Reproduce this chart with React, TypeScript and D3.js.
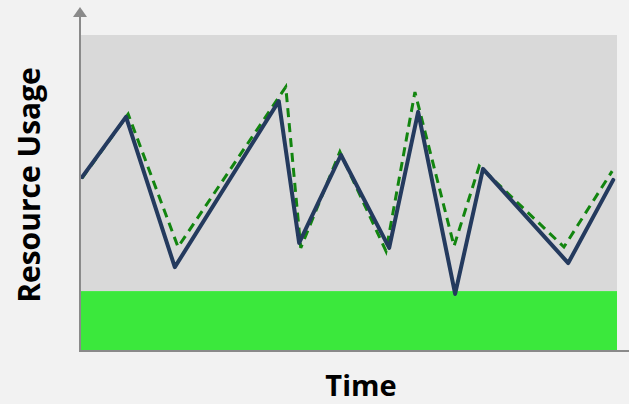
import React from "react";
import * as d3 from "d3";

// time (0..100) and resource usage (0..100)
const timeActual = [0.2, 8.4, 17.5, 36.9, 40.7, 48.5, 57.5, 62.9, 69.8, 75.0, 90.9, 99.3];
const usageActual = [54.9, 74.0, 26.3, 79.0, 34.0, 61.9, 32.4, 75.6, 17.8, 57.5, 27.6, 54.0];

const timeForecast = [0.2, 8.8, 18.1, 38.2, 41.0, 48.3, 56.9, 62.3, 69.6, 74.3, 90.1, 99.1];
const usageForecast = [54.6, 74.9, 32.7, 83.5, 32.4, 62.9, 31.4, 81.9, 33.0, 58.4, 32.7, 56.8];

// bands: [from, to] in usage units
const baseBand: [number, number] = [0, 18.7];
const rangeBand: [number, number] = [18.7, 100];

const W = 629;
const H = 404;

export default function App() {
  const x = d3.scaleLinear().domain([0, 100]).range([81, 617]);
  const y = d3.scaleLinear().domain([0, 100]).range([350, 35]);

  const line = d3
    .line<[number, number]>()
    .x((d) => x(d[0]))
    .y((d) => y(d[1]));

  const actual = timeActual.map((t, i) => [t, usageActual[i]] as [number, number]);
  const forecast = timeForecast.map((t, i) => [t, usageForecast[i]] as [number, number]);

  const axisX = x(0) - 1;
  const axisY = y(0) + 1;

  return (
    <svg
      width={W}
      height={H}
      style={{ position: "fixed", left: 0, top: 0, fontFamily: "'Open Sans', sans-serif" }}
    >
      <rect width={W} height={H} fill="#f2f2f2" />
      <rect
        x={x(0)}
        y={y(rangeBand[1])}
        width={x(100) - x(0)}
        height={y(rangeBand[0]) - y(rangeBand[1])}
        fill="#d9d9d9"
      />
      <rect
        x={x(0)}
        y={y(baseBand[1])}
        width={x(100) - x(0)}
        height={y(baseBand[0]) - y(baseBand[1])}
        fill="#3be83c"
      />

      <path d={line(forecast) || ""} fill="none" stroke="#12850f" strokeWidth={3} strokeDasharray="9,6" />
      <path
        d={line(actual) || ""}
        fill="none"
        stroke="#243a5e"
        strokeWidth={4}
        strokeLinejoin="round"
        strokeLinecap="round"
      />

      {/* axes */}
      <line x1={axisX} y1={16} x2={axisX} y2={axisY} stroke="#8a8a8a" strokeWidth={2} />
      <line x1={axisX - 1} y1={axisY} x2={W} y2={axisY} stroke="#8a8a8a" strokeWidth={2} />
      <path d={`M${axisX},7 L${axisX + 7},17 L${axisX - 7},17 Z`} fill="#8a8a8a" />

      <text x={361} y={396} textAnchor="middle" fontSize={29} fontWeight={700} fill="#000">
        Time
      </text>
      <text
        transform={`translate(40,185) rotate(-90)`}
        textAnchor="middle"
        fontSize={30}
        fontWeight={700}
        fill="#000"
      >
        Resource Usage
      </text>
    </svg>
  );
}
